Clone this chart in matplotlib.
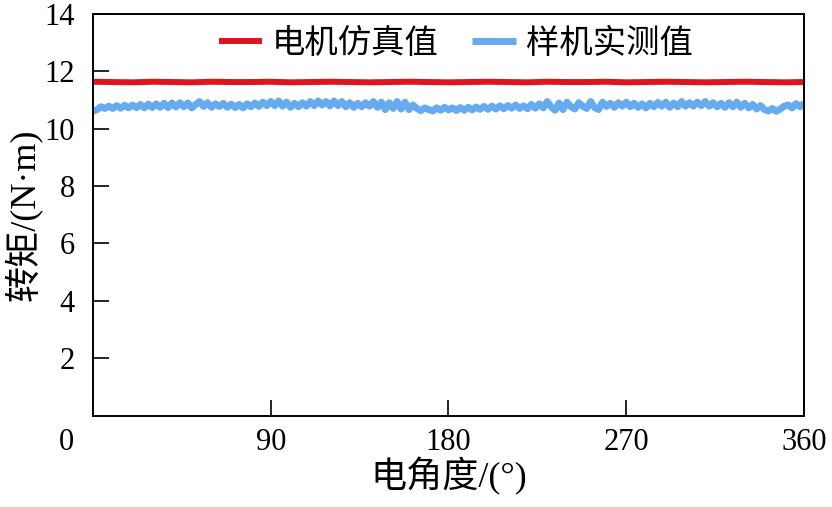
import matplotlib
matplotlib.use("Agg")
import matplotlib.pyplot as plt
import matplotlib.transforms as mtransforms
import numpy as np

plt.rcParams['font.family'] = ['Liberation Serif', 'Noto Sans CJK SC']

# measured torque (blue), every 2 degrees
angle_meas = np.arange(0, 361, 2)
torque_meas = [
    10.60, 10.66, 10.76, 10.70, 10.78, 10.70, 10.80, 10.71, 10.81, 10.72, 10.82,
    10.73, 10.84, 10.72, 10.85, 10.73, 10.86, 10.74, 10.88, 10.73, 10.89,
    10.75, 10.90, 10.76, 10.89, 10.72, 10.84, 10.94, 10.77, 10.90, 10.74,
    10.86, 10.77, 10.88, 10.74, 10.85, 10.73, 10.84, 10.72, 10.86, 10.76,
    10.89, 10.77, 10.92, 10.80, 10.94, 10.80, 10.96, 10.78, 10.92, 10.74,
    10.88, 10.76, 10.90, 10.78, 10.94, 10.80, 10.96, 10.82, 10.94, 10.79,
    10.96, 10.80, 10.94, 10.76, 10.90, 10.74, 10.88, 10.76, 10.90, 10.78,
    10.94, 10.74, 10.92, 10.66, 10.90, 10.70, 10.94, 10.68, 10.92, 10.66,
    10.82, 10.70, 10.62, 10.72, 10.66, 10.61, 10.72, 10.64, 10.74, 10.65,
    10.72, 10.63, 10.73, 10.64, 10.74, 10.65, 10.75, 10.67, 10.77, 10.67,
    10.78, 10.68, 10.79, 10.69, 10.80, 10.71, 10.82, 10.70, 10.79, 10.69,
    10.84, 10.71, 10.86, 10.72, 10.94, 10.75, 10.64, 10.89, 10.66, 10.92,
    10.76, 10.68, 10.90, 10.78, 10.70, 10.94, 10.73, 10.66, 10.92, 10.77,
    10.88, 10.74, 10.90, 10.78, 10.92, 10.76, 10.88, 10.74, 10.86, 10.72,
    10.88, 10.76, 10.91, 10.78, 10.92, 10.74, 10.89, 10.76, 10.94, 10.78,
    10.90, 10.78, 10.92, 10.80, 10.94, 10.78, 10.90, 10.76, 10.88, 10.74,
    10.90, 10.76, 10.92, 10.74, 10.88, 10.72, 10.84, 10.68, 10.80, 10.66,
    10.61, 10.70, 10.60, 10.68, 10.78, 10.82, 10.72, 10.87, 10.76, 10.89,
]

# simulated torque (red), every 10 degrees
angle_sim = np.arange(0, 361, 10)
torque_sim = [
    11.63, 11.62, 11.61, 11.63, 11.62, 11.61, 11.63, 11.62, 11.62, 11.63,
    11.61, 11.62, 11.63, 11.62, 11.61, 11.62, 11.63, 11.62, 11.61, 11.62,
    11.63, 11.62, 11.61, 11.63, 11.62, 11.62, 11.63, 11.61, 11.62, 11.63,
    11.62, 11.61, 11.62, 11.63, 11.62, 11.61, 11.62,
]

xticks = [0, 90, 180, 270, 360]
yticks = [2, 4, 6, 8, 10, 12, 14]

fig = plt.figure(figsize=(8.32, 5.07), dpi=100)
ax = fig.add_axes([0.1118, 0.180, 0.8545, 0.793])

ax.plot(angle_sim, torque_sim, color='#e0141e', lw=4.3, label='电机仿真值',
        solid_capstyle='butt')
ax.plot(angle_meas, torque_meas, color='#66aaf0', lw=5.0, label='样机实测值',
        solid_capstyle='butt')

ax.set_xlim(0, 360)
ax.set_ylim(0, 14)
ax.set_xticks(xticks)
ax.set_yticks(yticks)
ax.tick_params(direction='in', length=11.5, width=1.2, labelsize=22,
               top=False, right=False)
ax.tick_params(axis='y', pad=13)
ax.tick_params(axis='x', pad=9)
for s in ax.spines.values():
    s.set_linewidth(1.4)

# the "0" label sits left of the axis corner in the original
lab0 = ax.get_xticklabels()[0]
lab0.set_transform(lab0.get_transform() +
                   mtransforms.ScaledTranslation(-27 / 100, 0, fig.dpi_scale_trans))

ax.set_xlabel('电角度/(°)', fontsize=26, labelpad=0)
ax.set_ylabel('转矩/(N·m)', fontsize=26, labelpad=2)

ax.legend(loc='center', bbox_to_anchor=(0.51, 0.925), ncol=2, frameon=False,
          fontsize=24, handlelength=1.3, handletextpad=0.3, columnspacing=1.0)

fig.savefig('out.png', dpi=100)
